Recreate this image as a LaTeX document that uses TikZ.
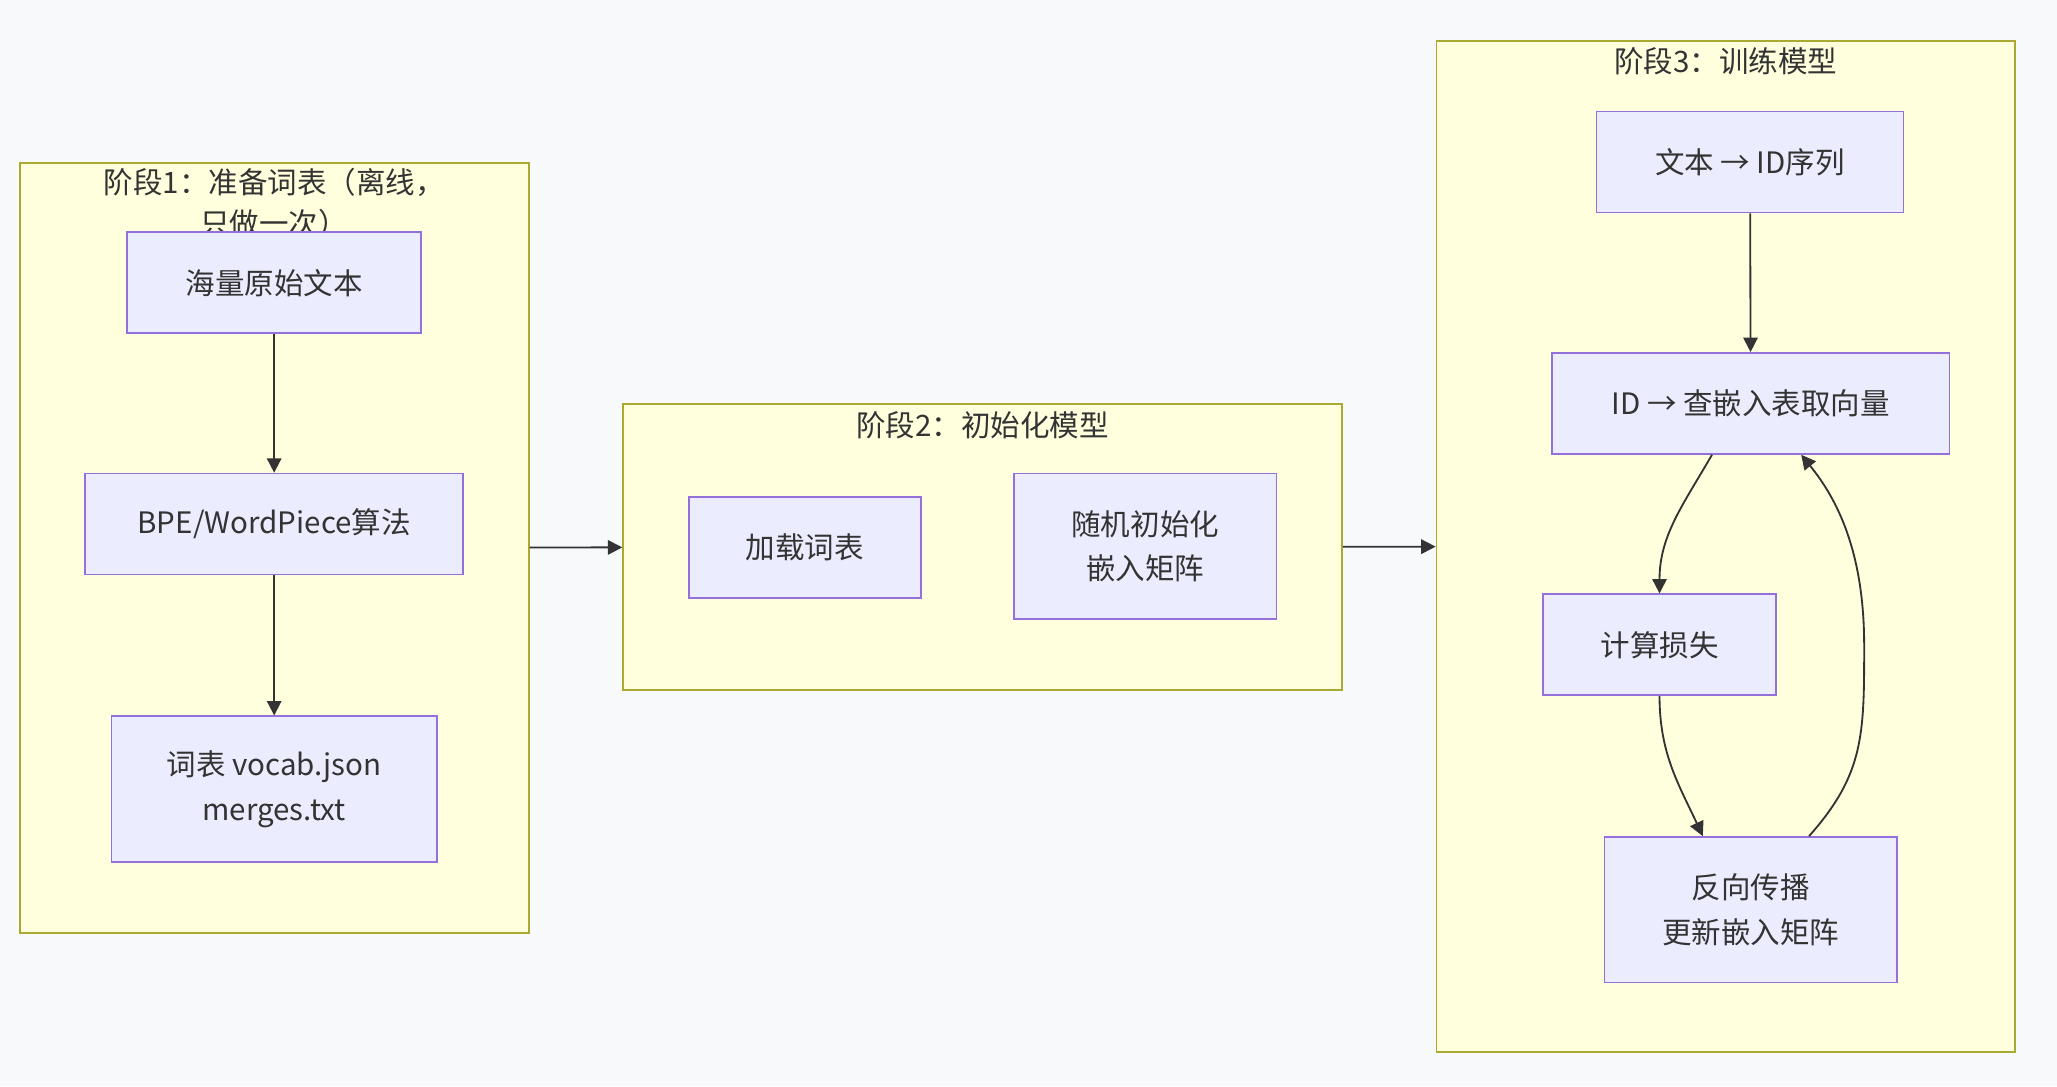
\documentclass[tikz,border=0pt]{standalone}
\usepackage{fontspec}
\setmainfont{Noto Sans CJK SC}
\usepackage{tikz}
\usetikzlibrary{positioning,calc,arrows.meta}
\definecolor{pagebg}{HTML}{F8F9FB}
\definecolor{clfill}{HTML}{FFFFDE}
\definecolor{clline}{HTML}{AAAA33}
\definecolor{boxfill}{HTML}{ECECFF}
\definecolor{boxline}{HTML}{9370DB}
\definecolor{ink}{HTML}{333333}

\tikzset{
  stage/.style={draw=clline,fill=clfill,line width=1.3pt,inner sep=0pt},
  stepbox/.style={draw=boxline,fill=boxfill,line width=1.3pt,inner sep=0pt,align=center},
  flow/.style={ink,line width=1.4pt,-{Triangle[length=11pt,width=11pt]}},
}

\begin{document}
\begin{tikzpicture}[x=1pt,y=-1pt,text=ink,font=\fontsize{22.5}{34}\selectfont]
\fill[pagebg] (0,0) rectangle (1568,828);
\useasboundingbox (0,0) rectangle (1568,828);

% stages
\node[stage,minimum width=388pt,minimum height=587pt] (s1) at (209,417.5) {};
\node[stage,minimum width=548pt,minimum height=218pt] (s2) at (749,417) {};
\node[stage,minimum width=441pt,minimum height=771pt] (s3) at (1315.5,416.5) {};
\node[align=center,font=\fontsize{22.5}{31}\selectfont] (t1) at (209,154.5) {阶段1：准备词表（离线，\\只做一次）};
\node (t2) at (749,324) {阶段2：初始化模型};
\node (t3) at (1315.5,47) {阶段3：训练模型};

% steps
\node[stepbox,minimum width=224pt,minimum height=77pt] (raw) at (209,215.5) {海量原始文本};
\node[stepbox,minimum width=288pt,minimum height=77pt] (bpe) at (209,399.5) {BPE/WordPiece算法};
\node[stepbox,minimum width=248pt,minimum height=111pt] (vocab) at (209,601.5) {词表 vocab.json\\merges.txt};
\node[stepbox,minimum width=177pt,minimum height=77pt] (load) at (613.5,417.5) {加载词表};
\node[stepbox,minimum width=200pt,minimum height=111pt] (init) at (873,416.5) {随机初始化\\嵌入矩阵};
\node[stepbox,minimum width=234pt,minimum height=77pt] (ids) at (1334,123.5) {文本 → ID序列};
\node[stepbox,minimum width=303pt,minimum height=77pt] (lookup) at (1334.5,307.5) {ID → 查嵌入表取向量};
\node[stepbox,minimum width=178pt,minimum height=77pt] (loss) at (1265,491.5) {计算损失};
\node[stepbox,minimum width=223pt,minimum height=111pt] (back) at (1334.5,693.5) {反向传播\\更新嵌入矩阵};

% arrows
\draw[flow] (raw) -- (bpe);
\draw[flow] (bpe) -- (vocab);
\draw[flow] (s1) -- (s2);
\draw[flow] (s2) -- (s3);
\draw[flow] (ids) -- (lookup);
\draw[flow] ($(lookup.south)+(-29.5,0)$) to[out=-120,in=90] (loss.north);
\draw[flow] (loss.south) to[out=-90,in=115] ($(back.north)+(-36.5,0)$);
\draw[flow] ($(back.north)+(44.5,0)$) .. controls (1421,590) and (1421,560) .. (1421,492)
  .. controls (1421,420) and (1400,380) .. ($(lookup.south)+(38.5,0)$);
\end{tikzpicture}
\end{document}
